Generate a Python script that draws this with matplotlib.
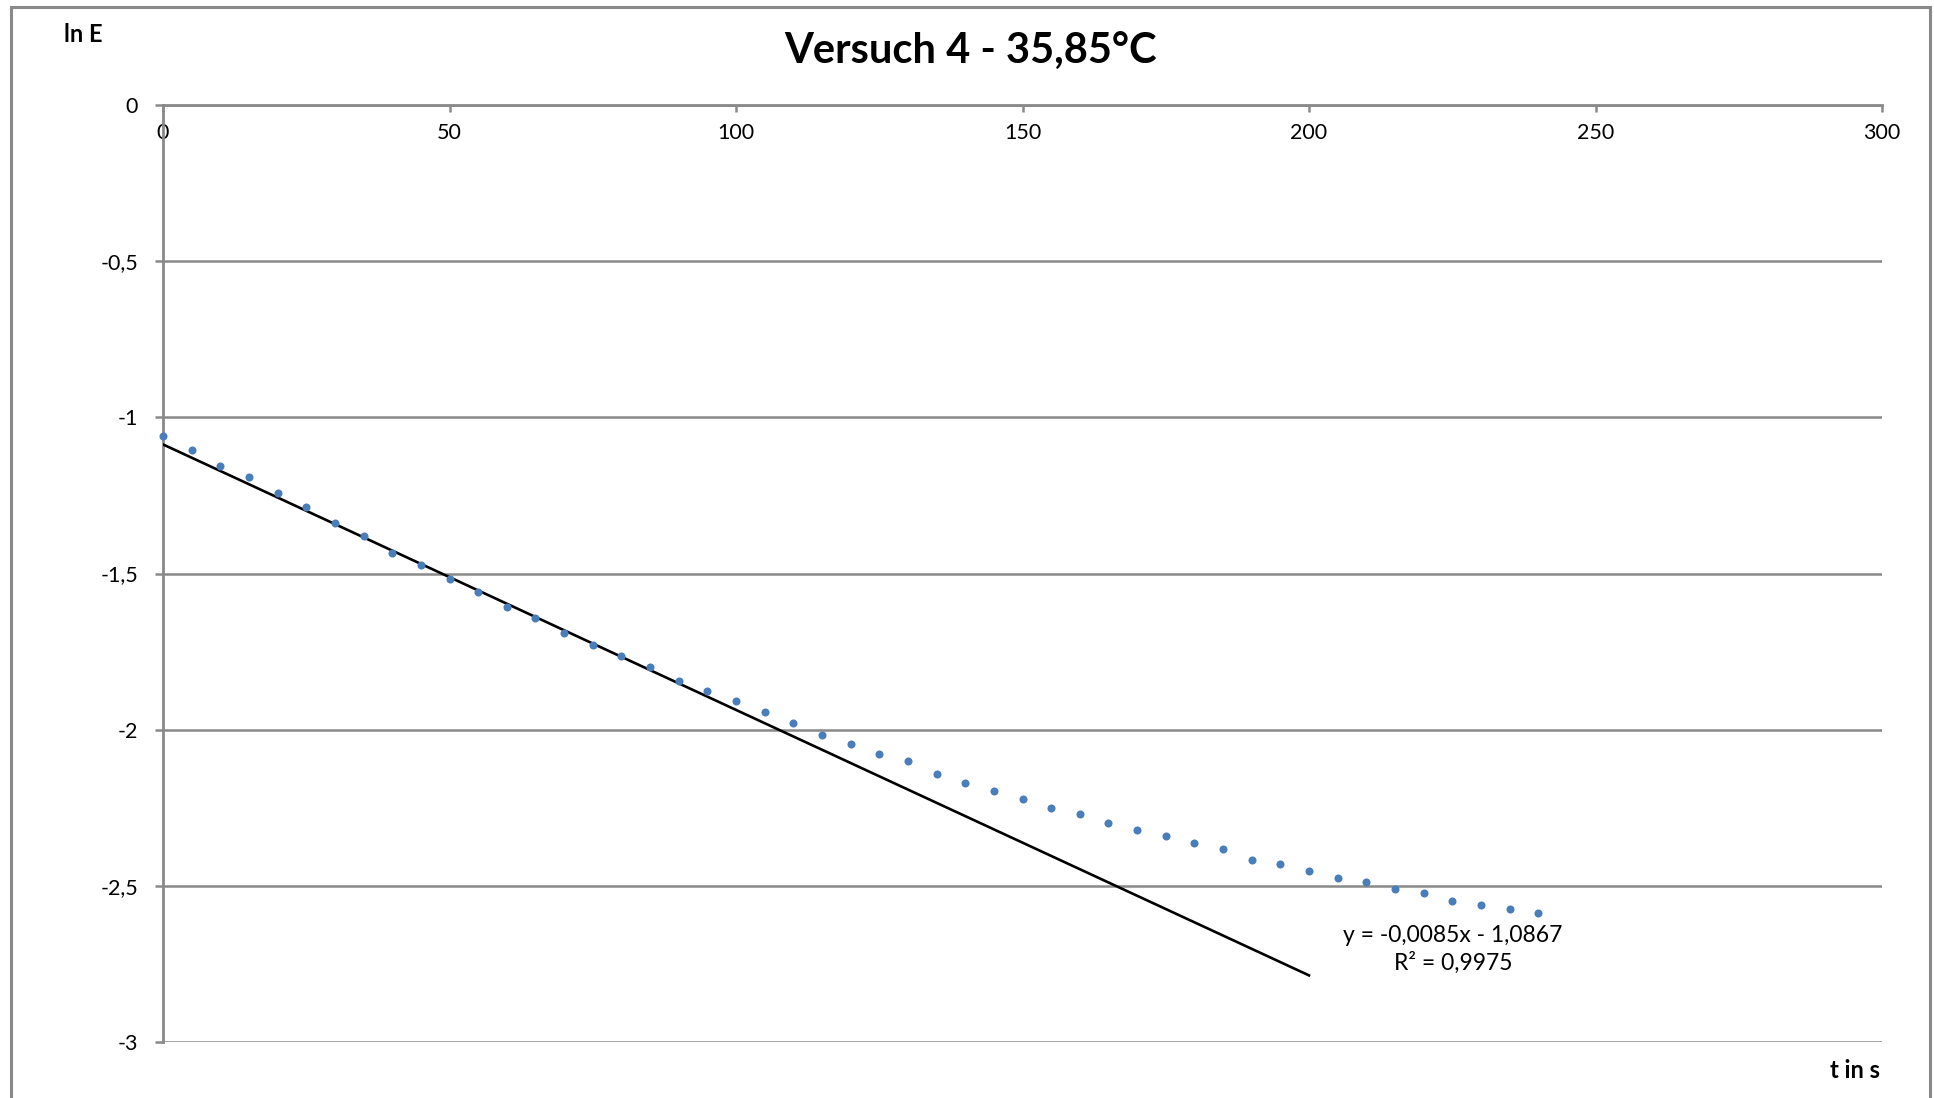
import numpy as np
import matplotlib
matplotlib.use('Agg')
import matplotlib.pyplot as plt
from matplotlib.patches import Rectangle

plt.rcParams['font.family'] = ['Lato', 'DejaVu Sans']

# Messwerte (t in s, ln E)
t = [0, 5, 10, 15, 20, 25, 30, 35, 40, 45, 50, 55, 60, 65, 70, 75, 80, 85, 90, 95,
     100, 105, 110, 115, 120, 125, 130, 135, 140, 145, 150, 155, 160, 165, 170, 175,
     180, 185, 190, 195, 200, 205, 210, 215, 220, 225, 230, 235, 240]
lnE = [-1.060, -1.105, -1.156, -1.192, -1.242, -1.288, -1.337, -1.380, -1.433, -1.473,
       -1.518, -1.559, -1.607, -1.644, -1.691, -1.730, -1.764, -1.798, -1.843, -1.875,
       -1.908, -1.943, -1.978, -2.016, -2.046, -2.078, -2.101, -2.143, -2.170, -2.197,
       -2.223, -2.252, -2.271, -2.300, -2.321, -2.342, -2.363, -2.383, -2.416, -2.429,
       -2.451, -2.475, -2.488, -2.511, -2.524, -2.550, -2.562, -2.575, -2.588]

# Trendlinie
m = -0.0085
b = -1.0867
t_fit = [0, 200]

x_ticks = [0, 50, 100, 150, 200, 250, 300]
y_ticks = [0, -0.5, -1, -1.5, -2, -2.5, -3]
y_ticklabels = ['0', '-0,5', '-1', '-1,5', '-2', '-2,5', '-3']

grau = '#898989'

fig = plt.figure(figsize=(19.34, 10.98), dpi=100)
ax = fig.add_axes([163/1934, 1 - 1042/1098, (1882 - 163)/1934, (1042 - 105)/1098])

y_fit = [m * x + b for x in t_fit]
ax.plot(t_fit, y_fit, color='black', linewidth=1.9, zorder=3)
ax.plot(t, lnE, linestyle='none', marker='o', markersize=5.8, color='#4a7ebb',
        markeredgewidth=0, zorder=4, clip_on=False)

ax.set_xlim(0, 300)
ax.set_ylim(-3, 0)
ax.set_xticks(x_ticks)
ax.set_yticks(y_ticks)
ax.set_yticklabels(y_ticklabels)

# x-Achse bei y=0 (oben), wie in Excel
ax.spines['bottom'].set_position(('data', 0))
ax.spines['top'].set_visible(False)
ax.spines['right'].set_visible(False)
for s in ['bottom', 'left']:
    ax.spines[s].set_color(grau)
    ax.spines[s].set_linewidth(2)

ax.grid(True, axis='y', color=grau, linewidth=1.8)
ax.set_axisbelow(True)
ax.tick_params(axis='x', direction='out', length=5, width=1.8, color=grau,
               labelsize=15.5, pad=8)
ax.tick_params(axis='y', direction='out', length=6, width=1.8, color=grau,
               labelsize=15.5, pad=12)

fig.text(971/1934, 1 - 52/1098, 'Versuch 4 - 35,85°C', ha='center', va='center',
         fontsize=30, fontweight='bold')
fig.text(83/1934, 1 - 34/1098, 'ln E', ha='center', va='center',
         fontsize=17, fontweight='bold')
fig.text(1880/1934, 1 - 1070/1098, 't in s', ha='right', va='center',
         fontsize=17, fontweight='bold')

fig.text(1453/1934, 1 - 935/1098, 'y = -0,0085x - 1,0867', ha='center', va='center',
         fontsize=16.5)
fig.text(1453/1934, 1 - 963/1098, 'R² = 0,9975', ha='center', va='center',
         fontsize=16.5)

# Rahmen ums Diagramm
fig.patches.append(Rectangle((11/1934, -0.02), (1930 - 11)/1934, (1098 - 7)/1098 + 0.02,
                             transform=fig.transFigure, fill=False,
                             edgecolor=grau, linewidth=2.2))

plt.savefig('out.png', dpi=100)
